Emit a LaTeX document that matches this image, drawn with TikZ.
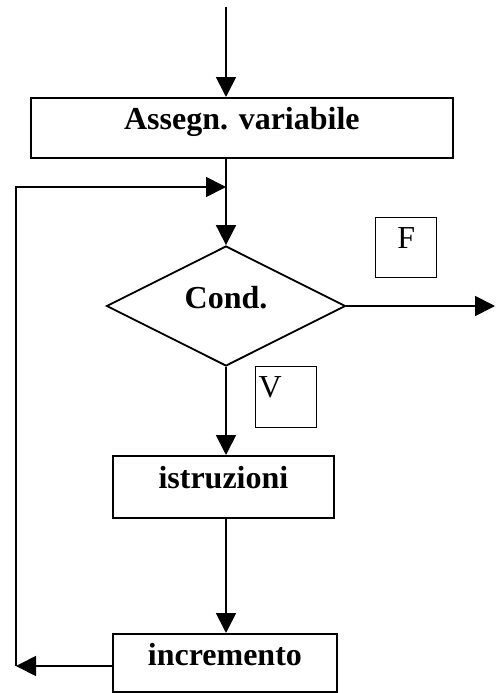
\documentclass[tikz,border=0pt]{standalone}
\usepackage{fontspec}
\setmainfont{Liberation Serif}
\usetikzlibrary{arrows.meta,shapes.geometric}
\begin{document}
\begin{tikzpicture}[x=1pt,y=-1pt,
  ln/.style={line width=1.8pt},
  arr/.style={ln,-{Triangle[length=20pt,width=20pt]}},
  procbox/.style={draw,line width=1.8pt,rectangle,inner sep=0pt,font=\fontsize{32}{38}\selectfont\bfseries,anchor=north west},
  tagbox/.style={draw,line width=1.4pt,rectangle,inner sep=0pt,font=\fontsize{32}{38}\selectfont,anchor=north west}]
\useasboundingbox (0,0) rectangle (499,693);
\coordinate (start) at (226,7);
\node[procbox,minimum width=422pt,text height=32pt,text depth=28pt] (as) at (30,97) {Assegn. variabile};
\node[draw,diamond,line width=1.8pt,inner sep=0pt,minimum width=239pt,minimum height=120pt,text height=20pt,text depth=16pt,font=\fontsize{32}{38}\selectfont\bfseries] (dia) at (226,306) {Cond.};
\node[tagbox,minimum width=61pt,text height=31pt,text depth=29pt] (fb) at (375,217) {F};
\node[tagbox,text width=55pt,align=left,inner xsep=3pt,text height=31pt,text depth=30pt] (vb) at (255,366) {V};
\node[procbox,minimum width=221pt,text height=33pt,text depth=29pt] (ist) at (112,455) {istruzioni};
\node[procbox,minimum width=224pt,text height=32pt,text depth=26pt] (inc) at (112,633) {incremento};
\coordinate (out) at (495,306);
\coordinate (lb) at (16,666);
\coordinate (lt) at (16,187);
\coordinate (j) at (226,187);
\draw[arr] (start) -- (as.north -| start);
\draw[ln] (as.south -| start) -- (j);
\draw[arr] (j) -- (dia.north);
\draw[arr] (dia.east) -- (out);
\draw[arr] (dia.south) -- (dia.south |- ist.north);
\draw[arr] (dia.south |- ist.south) -- (dia.south |- inc.north);
\draw[arr] (inc.west |- lb) -- (lb);
\draw[arr] (lb) -- (lt) -- (j);
\end{tikzpicture}
\end{document}
